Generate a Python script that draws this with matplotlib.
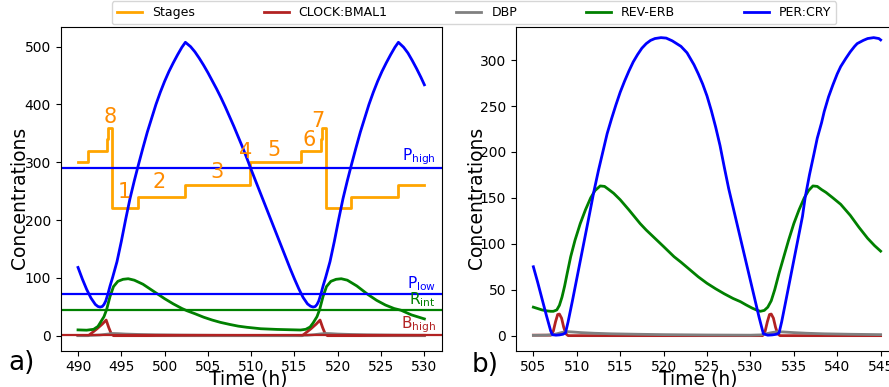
import matplotlib
matplotlib.use("Agg")
import matplotlib.pyplot as plt

# ---------------- Panel a data ----------------
a_per_t = [490.0, 490.5, 491.0, 491.5, 492.0, 492.3, 492.55, 492.8, 493.0, 493.2, 493.45, 493.7,
           494.0, 494.5, 495.0, 495.5, 496.0, 496.5, 497.0, 497.5, 498.0, 498.5, 499.0, 499.5,
           500.0, 500.5, 501.0, 501.5, 502.0, 502.4,
           503.0, 503.5, 504.0, 504.5, 505.0, 505.5, 506.0, 506.5, 507.0, 507.5, 508.0, 508.5,
           509.0, 509.5, 509.9, 510.5, 511.0, 511.5, 512.0, 512.5, 513.0, 513.5, 514.0, 514.5,
           515.0, 515.5, 516.0, 516.5, 516.85, 517.15,
           517.4, 517.6, 517.8, 518.05, 518.3, 518.6, 519.1, 519.6, 520.1, 520.6, 521.1, 521.6,
           522.1, 522.6, 523.1, 523.6, 524.1, 524.6, 525.1, 525.6, 526.1, 526.6, 527.0,
           527.6, 528.1, 528.6, 529.1, 529.6, 530.0]
a_per_v = [118, 98, 80, 65, 54, 50.5, 49.5, 50.5, 54, 60, 72, 86,
           101, 128, 163, 201, 237, 268, 297, 325, 352, 376, 400, 421,
           440, 457, 472, 486, 499, 507.5,
           500, 491, 480, 468, 455, 441, 427, 412, 396, 379, 362, 344,
           326, 307, 291, 268, 249, 230, 211, 192, 173, 154, 135, 116,
           98, 81, 66, 55, 51, 49.5,
           50.5, 54, 60, 72, 86, 101, 128, 163, 201, 237, 268, 297,
           325, 352, 376, 400, 421, 440, 457, 472, 486, 499, 507.5,
           499, 489, 476, 462, 447, 434]

a_rev_t = [490.0, 491.0, 491.8, 492.3, 492.55, 493.0, 493.3, 493.7, 494.1, 494.6, 495.2, 495.8,
           496.5, 497.5, 498.5, 499.1, 500.0, 501.0, 502.0, 502.6, 503.5, 504.5, 505.5, 506.45,
           507.5, 508.5, 509.5, 511.1, 513.0, 515.7, 516.3, 516.8, 517.15, 517.6, 517.9, 518.3,
           518.7, 519.2, 519.8, 520.4, 521.1, 522.2, 523.5, 524.5, 525.5, 526.5, 527.3, 528.5,
           530.0]
a_rev_v = [10, 9.5, 11, 16, 22, 33, 45, 68, 85, 94, 97.5, 98.5,
           96, 89, 79, 73, 64, 55, 47, 43, 38, 32, 27, 23,
           19.5, 16.5, 14.5, 12, 10.8, 9.8, 11, 15, 22, 33, 45, 68,
           85, 94, 97.5, 98.5, 96, 86, 71, 61, 53, 47, 44, 36,
           29]

a_clk_t = [490.0, 491.2, 492.2, 492.8, 493.25, 493.55, 493.85, 494.1,
           515.9, 516.9, 517.5, 517.95, 518.25, 518.55, 518.8, 530.0]
a_clk_v = [0, 0, 12, 20, 27, 14, 3, 0,
           0, 12, 20, 27, 14, 3, 0, 0]

a_dbp_t = [490.0, 491.5, 492.5, 493.3, 494.0, 494.6, 495.5, 497.0, 499.0, 502.0, 506.0, 510.0,
           515.0, 516.5, 517.3, 518.0, 518.6, 519.2, 520.0, 521.5, 523.5, 526.5, 530.0]
a_dbp_v = [0.3, 0.5, 1.2, 2.5, 3.8, 3.5, 2.8, 2.1, 1.5, 1.0, 0.6, 0.4,
           0.3, 0.8, 1.8, 3.0, 3.8, 3.5, 2.8, 2.1, 1.5, 1.0, 0.7]

stage_t = [490.0, 491.2, 493.3, 493.5, 493.9, 496.9, 502.4, 509.9, 515.8, 518.05, 518.2, 518.6,
           521.5, 527.0, 530.0]
stage_v = [300, 320, 340, 360, 220, 240, 260, 300, 320, 340, 360, 220,
           240, 260, 260]

stage_labels = ["8", "1", "2", "3", "4", "5", "6", "7"]
stage_label_t = [493.7, 495.4, 499.4, 506.0, 509.35, 512.6, 516.7, 517.65]
stage_label_v = [379, 249, 266, 283, 318, 321, 339, 372]

thresholds = {"P_high": 290, "P_low": 72, "R_int": 45, "B_high": 0.5}

# ---------------- Panel b data ----------------
b_per_t = [505.0, 505.5, 506.0, 506.5, 507.0, 507.2, 507.6, 508.0, 508.4, 508.7, 509.0, 509.5,
           510.0, 510.5, 511.0, 511.5, 511.95, 512.5, 513.0, 513.5, 514.0, 514.5, 515.0, 515.5,
           516.0, 516.5, 517.0, 517.5, 518.0, 518.5, 519.0, 519.7, 520.3, 521.0, 521.5, 522.0,
           522.7, 523.5, 524.0, 524.5, 525.0, 525.5, 526.0, 526.5, 527.0, 527.5, 528.0, 528.5,
           529.0, 529.5, 530.0, 530.5, 531.0, 531.3, 531.5, 532.0, 532.5, 533.0, 533.3, 533.6,
           534.0, 534.5, 535.0, 535.5, 536.0, 536.3, 536.8, 537.3, 537.7, 538.2, 538.5, 539.0,
           539.5, 540.0, 540.4, 541.0, 541.5, 542.0, 542.3, 543.0, 543.5, 544.2, 544.8, 545.0]
b_per_v = [75, 58, 40, 22, 5, 1, 0.5, 0.8, 1.5, 3, 15, 38,
           62, 86, 110, 134, 156, 180, 200, 220, 236, 251, 265, 277,
           288, 298, 306, 313, 318, 321.5, 323.5, 324.5, 324, 321, 318, 315,
           308, 295, 285, 274, 261, 245, 227, 207, 183, 160, 140, 120,
           100, 80, 60, 40, 20, 9, 2, 0.5, 0.8, 1.5, 3, 15,
           34, 58, 82, 106, 130, 150, 175, 197, 215, 232, 244, 260,
           273, 285, 293, 302, 309, 315, 318, 321.5, 323.5, 324.5, 323.5, 322]

b_rev_t = [505.0, 505.5, 506.0, 506.5, 507.0, 507.3, 507.7, 508.0, 508.3, 508.6, 508.9, 509.3,
           509.8, 510.4, 511.0, 511.6, 512.1, 512.7, 513.2, 513.7, 514.25, 515.0, 516.0, 517.3,
           518.0, 519.0, 520.0, 521.2, 522.0, 523.0, 524.0, 525.0, 526.0, 527.0, 528.0, 528.85,
           529.5, 530.2, 530.8, 531.15, 531.6, 532.0, 532.4, 532.8, 533.3, 533.85, 534.4, 535.0,
           535.6, 536.2, 536.7, 537.2, 537.7, 538.2, 538.7, 539.5, 540.4, 541.5, 542.5, 543.5,
           544.3, 545.0]
b_rev_v = [31, 29.5, 28, 27, 26.5, 26.5, 28, 33, 42, 54, 68, 86,
           104, 122, 137, 150, 158, 163, 162.5, 159, 155, 148, 137, 122,
           115, 106, 97, 86, 80, 72, 64, 57, 51, 45.5, 40.5, 37,
           33.5, 30, 27.5, 26.5, 27.5, 31, 38, 50, 68, 86, 104, 122,
           137, 150, 158, 163, 162.5, 159, 156, 150, 143, 131, 118, 106,
           98, 92]

b_clk_t = [505.0, 507.0, 507.3, 507.55, 507.8, 508.0, 508.25, 508.5, 508.75, 509.0,
           531.4, 531.7, 531.95, 532.2, 532.4, 532.65, 532.9, 533.15, 533.4, 545.0]
b_clk_v = [0.5, 0.5, 5, 15, 23, 23.5, 19, 9, 2, 0,
           0, 5, 15, 23, 23.5, 19, 9, 2, 0, 0]

b_dbp_t = [505.0, 506.5, 507.2, 507.7, 508.3, 508.9, 509.5, 510.5, 512.0, 514.0, 517.0, 520.0,
           525.0, 530.0, 531.2, 531.8, 532.4, 533.1, 533.8, 535.0, 536.5, 538.5, 541.5, 545.0]
b_dbp_v = [0.3, 0.5, 1.0, 2.0, 3.5, 4.3, 4.0, 3.3, 2.6, 2.0, 1.5, 1.1,
           0.7, 0.5, 0.8, 2.0, 3.2, 4.3, 4.0, 3.3, 2.6, 2.0, 1.5, 1.1]

legend_labels = ["Stages", "CLOCK:BMAL1", "DBP", "REV-ERB", "PER:CRY"]

# ---------------- Figure ----------------
W, H = 889, 387
fig = plt.figure(figsize=(W / 100, H / 100), dpi=100)

axA = fig.add_axes([60.7 / W, 1 - 350.7 / H, 381 / W, 324 / H])
axB = fig.add_axes([516 / W, 1 - 350.7 / H, 382 / W, 324 / H])

LW = 2.0
c_stage, c_clk, c_dbp, c_rev, c_per = "orange", "firebrick", "gray", "green", "blue"

h_stage, = axA.step(stage_t, stage_v, where="post", color=c_stage, lw=LW)
h_clk, = axA.plot(a_clk_t, a_clk_v, color=c_clk, lw=LW)
h_dbp, = axA.plot(a_dbp_t, a_dbp_v, color=c_dbp, lw=LW)
h_rev, = axA.plot(a_rev_t, a_rev_v, color=c_rev, lw=LW)
h_per, = axA.plot(a_per_t, a_per_v, color=c_per, lw=LW)

axA.axhline(thresholds["P_high"], color=c_per, lw=1.6)
axA.axhline(thresholds["P_low"], color=c_per, lw=1.6)
axA.axhline(thresholds["R_int"], color=c_rev, lw=1.6)
axA.axhline(thresholds["B_high"], color=c_clk, lw=1.6)

txt_x = 531.3
axA.text(txt_x, thresholds["P_high"] + 2, r"P$_{\mathrm{high}}$", color=c_per, fontsize=11,
         ha="right", va="bottom")
axA.text(txt_x, thresholds["P_low"] + 2, r"P$_{\mathrm{low}}$", color=c_per, fontsize=11,
         ha="right", va="bottom")
axA.text(txt_x, thresholds["R_int"] + 1, r"R$_{\mathrm{int}}$", color=c_rev, fontsize=11,
         ha="right", va="bottom")
axA.text(txt_x, thresholds["B_high"] + 0.5, r"B$_{\mathrm{high}}$", color=c_clk, fontsize=11,
         ha="right", va="bottom")

for lab, tx, ty in zip(stage_labels, stage_label_t, stage_label_v):
    axA.text(tx, ty, lab, color="darkorange", fontsize=15, ha="center", va="center")

axB.plot(b_clk_t, b_clk_v, color=c_clk, lw=LW)
axB.plot(b_dbp_t, b_dbp_v, color=c_dbp, lw=LW)
axB.plot(b_rev_t, b_rev_v, color=c_rev, lw=LW)
axB.plot(b_per_t, b_per_v, color=c_per, lw=LW)

axA.set_xlim(488, 532)
axA.set_ylim(-26, 534.5)
axA.set_xticks(range(490, 531, 5))
axA.set_yticks(range(0, 501, 100))

axB.set_xlim(503, 547)
axB.set_ylim(-16.4, 336.4)
axB.set_xticks(range(505, 546, 5))
axB.set_yticks(range(0, 301, 50))

for ax, xl_x, yl_x in ((axA, 0.493, -0.0845), (axB, 0.476, -0.0795)):
    ax.tick_params(labelsize=10)
    ax.set_xlabel("Time (h)", fontsize=13.5)
    ax.set_ylabel("Concentrations", fontsize=13.5)
    ax.xaxis.set_label_coords(xl_x, -0.057)
    ax.yaxis.set_label_coords(yl_x, 0.473)

fig.text(8.5 / W, 1 - 370 / H, "a)", fontsize=19, ha="left", va="baseline")
fig.text(471.8 / W, 1 - 372.5 / H, "b)", fontsize=19, ha="left", va="baseline")

fig.legend([h_stage, h_clk, h_dbp, h_rev, h_per], legend_labels, loc="center",
           bbox_to_anchor=(474 / W, 1 - 12.5 / H), ncol=5, fontsize=9,
           columnspacing=5.5, borderaxespad=0)

fig.savefig("out.png", dpi=100)
